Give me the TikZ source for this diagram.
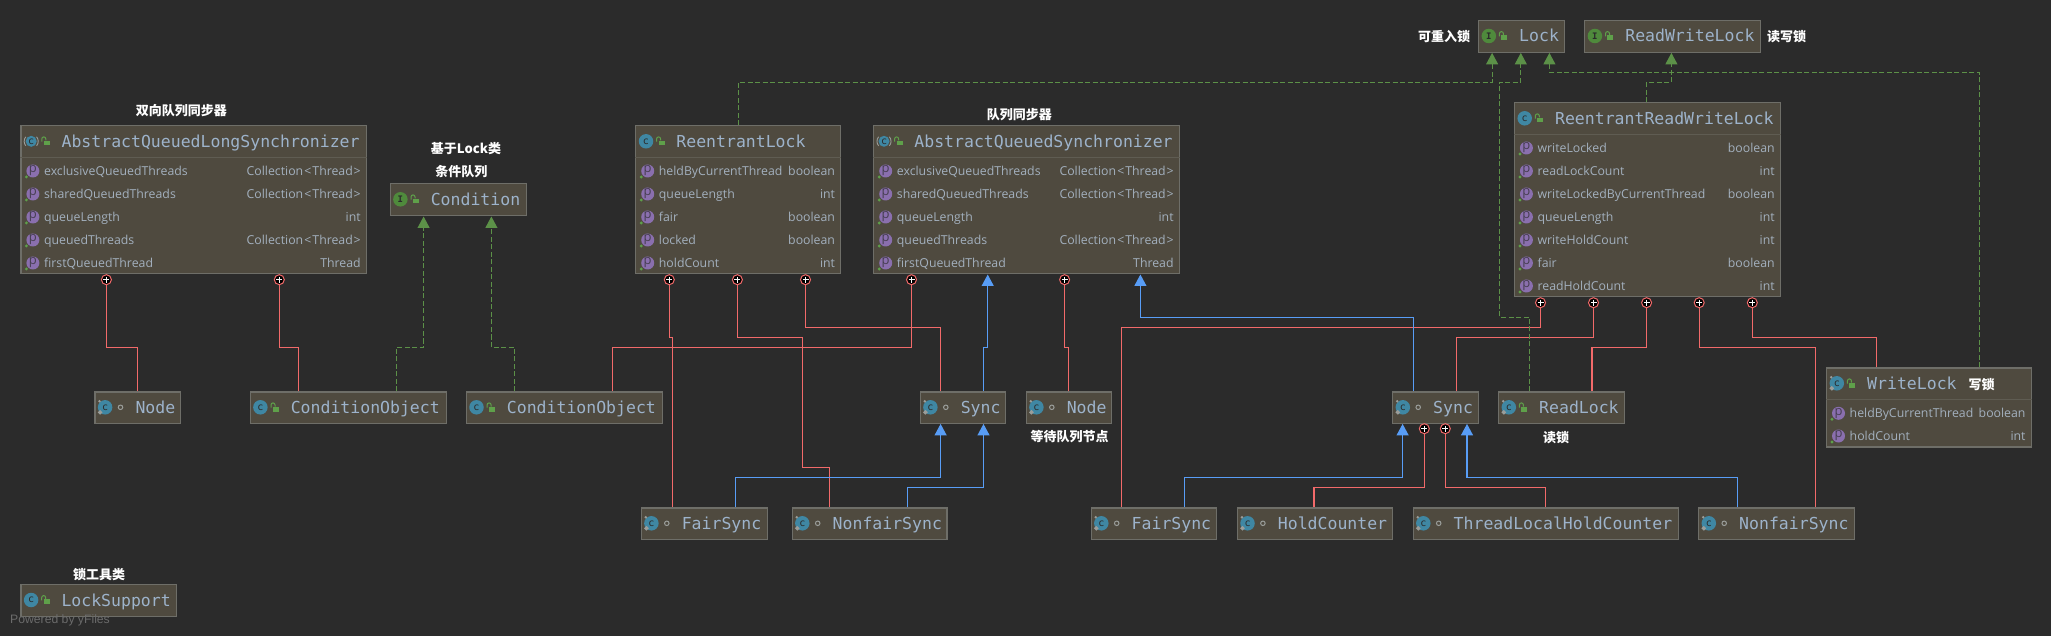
\documentclass[tikz,border=0pt]{standalone}
\usepackage{fontspec}
\setmainfont{Open Sans}
\setmonofont{DejaVu Sans Mono}
\newfontfamily\cjk{Noto Sans CJK SC}
\newfontfamily\yfilesfont{Liberation Sans}
\usetikzlibrary{arrows.meta}
\definecolor{bgdark}{HTML}{2B2B2B}
\definecolor{boxfill}{HTML}{4F4A3F}
\definecolor{boxline}{HTML}{6E6E68}
\definecolor{sepline}{HTML}{5F5C52}
\definecolor{nametext}{HTML}{9DB3CB}
\definecolor{rowtext}{HTML}{A3B0BE}
\definecolor{redlink}{HTML}{F26A6A}
\definecolor{bluelink}{HTML}{589DF6}
\definecolor{greenlink}{HTML}{5C9148}
\definecolor{iconblue}{HTML}{3F87A3}
\definecolor{icongreen}{HTML}{4F8A3C}
\definecolor{iconpurple}{HTML}{8A6FAE}
\definecolor{lockgreen}{HTML}{5FA04A}
\definecolor{pingrey}{HTML}{9A9D9A}
\tikzset{
  umlbox/.style={draw=boxline, fill=boxfill, line width=1.2pt, anchor=north west, inner sep=0pt, rectangle},
  titletext/.style={anchor=base west, inner sep=0pt, text=nametext, font=\ttfamily\fontsize{16.5}{18}\selectfont},
  cicon/.style={circle, fill=iconblue, minimum size=14.5pt, inner sep=0pt, text=bgdark, font=\ttfamily\fontsize{10}{10}\selectfont},
  absicon/.style={cicon, minimum size=11pt},
  iicon/.style={circle, fill=icongreen, minimum size=14.5pt, inner sep=0pt, text=bgdark, font=\ttfamily\bfseries\fontsize{9}{9}\selectfont},
  picon/.style={circle, fill=iconpurple, minimum size=13pt, inner sep=0pt, text=bgdark!70!iconpurple, font=\fontsize{13}{13}\selectfont},
  rowname/.style={anchor=base west, inner sep=0pt, text=rowtext, font=\fontsize{12.3}{14}\selectfont},
  rowtype/.style={anchor=base east, inner sep=0pt, text=rowtext, font=\fontsize{12.3}{14}\selectfont},
  dotmark/.style={circle, draw=pingrey, line width=1pt, minimum size=4.5pt, inner sep=0pt},
  plusmark/.style={circle, draw=redlink, fill=black, line width=1pt, minimum size=10pt, inner sep=0pt,
    path picture={\draw[white, line width=.9pt] (path picture bounding box.center) ++(-3,0) -- ++(6,0)
      (path picture bounding box.center) ++(0,-3) -- ++(0,6);}},
  note/.style={inner sep=0pt, text=white, font=\cjk\bfseries\fontsize{13}{14}\selectfont},
  redlinkline/.style={draw=redlink, line width=1.1pt},
  bluelinkline/.style={draw=bluelink, line width=1.1pt, -{Triangle[width=12pt,length=11.5pt]}},
  greenlinkline/.style={draw=greenlink, line width=1pt, dash pattern=on 5pt off 2.5pt, -{Triangle[width=12pt,length=11.5pt]}},
}
\newcommand{\collthread}{Collection\kern1.2pt<\kern1pt Thread\kern.8pt>}
% name, x, y, width, height, icon style, letter, mark style, title
\newcommand{\classbox}[9]{%
  \node[umlbox, minimum width=#4pt, minimum height=#5pt] (#1) at (#2,#3) {};
  \path (#1.north west) ++(10.8,16) node[#6] (#1-icon) {#7};
  \path (#1.north west) ++(26.2,16) coordinate (#1-mark);
  #8{#1}
  \path (#1.north west) ++(41,22) node[titletext] (#1-title) {#9};
}
\newcommand{\lockmark}[1]{%
  \fill[lockgreen] (#1-mark) ++(-2.9,-.6) rectangle ++(6,4.8);
  \draw[lockgreen, line width=1pt] (#1-mark) ++(-4.8,.4) -- ++(0,-2.8) arc[start angle=180, end angle=360, radius=2] -- ++(0,1.6);
}
\newcommand{\openmark}[1]{\node[dotmark] (#1-dot) at (#1-mark) {};}
\newcommand{\pinmark}[1]{%
  \fill[pingrey] (#1-icon.center) ++(-5.6,-6) circle[radius=1.4];
  \fill[pingrey] (#1-icon.center) ++(-5,2.6) -- ++(2.4,2.4) -- ++(-2.4,2.4) -- ++(-2.4,-2.4) -- cycle;
}
\newcommand{\absmark}[1]{%
  \draw[pingrey, line width=.9pt] (#1-icon.center) ++(-5.4,4.5) arc[start angle=140, end angle=220, radius=7];
  \draw[pingrey, line width=.9pt] (#1-icon.center) ++(5.4,4.5) arc[start angle=40, end angle=-40, radius=7];
}
% box, index, y, name, type
\newcommand{\proprow}[5]{%
  \path (#1.west |- 0,#3) ++(12.5,0) node[picon] (#1-p#2) {p};
  \fill[lockgreen] (#1-p#2.center) ++(-6.5,6) circle[radius=1.6];
  \path (#1.west |- 0,#3) ++(23.5,4.6) node[rowname] (#1-n#2) {#4};
  \path (#1.east |- 0,#3) ++(-6,4.6) node[rowtype] (#1-t#2) {#5};
}
\begin{document}
\begin{tikzpicture}[x=1pt,y=-1pt]
  \fill[bgdark] (0,0) rectangle (2051,636);
  \useasboundingbox (0,0) rectangle (2051,636);

  % big classes
  \classbox{aqls}{20.4}{125.3}{345.3}{148}{absicon}{c}{\lockmark}{AbstractQueuedLongSynchronizer}
  \classbox{reentrant}{635.2}{125.3}{204.8}{148}{cicon}{c}{\lockmark}{ReentrantLock}
  \classbox{aqs}{873.2}{125.3}{305.4}{148}{absicon}{c}{\lockmark}{AbstractQueuedSynchronizer}
  \classbox{rrwl}{1513.9}{102.3}{265.8}{194}{cicon}{c}{\lockmark}{ReentrantReadWriteLock}
  \classbox{writelock}{1826}{367.3}{204.5}{79}{cicon}{c}{\lockmark}{WriteLock}
  \foreach \b in {aqls,reentrant,aqs,rrwl,writelock}
    \draw[sepline, line width=1pt] (\b.north west) ++(0,32) coordinate (\b-sep) -- (\b-sep -| \b.east);

  \foreach \ri/\ry/\rn/\rt in {1/171/exclusiveQueuedThreads/\collthread,2/194/sharedQueuedThreads/\collthread,
      3/217/queueLength/int,4/240/queuedThreads/\collthread,5/263/firstQueuedThread/Thread} {
    \proprow{aqls}{\ri}{\ry}{\rn}{\rt}
    \proprow{aqs}{\ri}{\ry}{\rn}{\rt}
  }
  \foreach \ri/\ry/\rn/\rt in {1/171/heldByCurrentThread/boolean,2/194/queueLength/int,3/217/fair/boolean,
      4/240/locked/boolean,5/263/holdCount/int} {
    \proprow{reentrant}{\ri}{\ry}{\rn}{\rt}
  }
  \foreach \ri/\ry/\rn/\rt in {1/148/writeLocked/boolean,2/171/readLockCount/int,3/194/writeLockedByCurrentThread/boolean,
      4/217/queueLength/int,5/240/writeHoldCount/int,6/263/fair/boolean,7/286/readHoldCount/int} {
    \proprow{rrwl}{\ri}{\ry}{\rn}{\rt}
  }
  \foreach \ri/\ry/\rn/\rt in {1/413.3/heldByCurrentThread/boolean,2/436/holdCount/int} {
    \proprow{writelock}{\ri}{\ry}{\rn}{\rt}
  }

  % small classes
  \classbox{condition}{389.6}{183.3}{136}{32}{iicon}{I}{\lockmark}{Condition}
  \classbox{lock}{1478}{20}{86}{31.7}{iicon}{I}{\lockmark}{Lock}
  \classbox{rwlock}{1584.1}{20}{175.9}{31.7}{iicon}{I}{\lockmark}{ReadWriteLock}
  \classbox{nodeA}{94.3}{391.3}{85.3}{31.4}{cicon}{c}{\openmark}{Node}
  \classbox{condobjA}{249.6}{391.3}{196}{31.4}{cicon}{c}{\lockmark}{ConditionObject}
  \classbox{condobjB}{465.7}{391.3}{196}{31.4}{cicon}{c}{\lockmark}{ConditionObject}
  \classbox{syncA}{919.6}{391.3}{85.3}{31.4}{cicon}{c}{\openmark}{Sync}
  \classbox{nodeB}{1025.6}{391.3}{85.3}{31.4}{cicon}{c}{\openmark}{Node}
  \classbox{syncB}{1392}{391.3}{85.5}{31.4}{cicon}{c}{\openmark}{Sync}
  \classbox{readlock}{1498}{391.3}{125.7}{31.4}{cicon}{c}{\lockmark}{ReadLock}
  \classbox{fairA}{640.6}{507.3}{125.9}{31.4}{cicon}{c}{\openmark}{FairSync}
  \classbox{nonfairA}{791.5}{507.3}{154.9}{31.4}{cicon}{c}{\openmark}{NonfairSync}
  \classbox{fairB}{1090.5}{507.3}{125.1}{31.4}{cicon}{c}{\openmark}{FairSync}
  \classbox{holdcnt}{1236.7}{507.3}{154.8}{31.4}{cicon}{c}{\openmark}{HoldCounter}
  \classbox{tlhc}{1412.5}{507.3}{265.5}{31.4}{cicon}{c}{\openmark}{ThreadLocalHoldCounter}
  \classbox{nonfairB}{1698}{507.3}{156}{31.4}{cicon}{c}{\openmark}{NonfairSync}
  \classbox{locksupport}{20.3}{584}{155.4}{31.7}{cicon}{c}{\lockmark}{LockSupport}
  \foreach \b in {nodeA,nodeB,syncA,syncB,fairA,fairB,nonfairA,nonfairB,holdcnt,tlhc,readlock,writelock} {
    \pinmark{\b}
  }
  \foreach \b in {aqls,aqs} {
    \absmark{\b}
  }

  % plus marks
  \node[plusmark] (aqlsA) at (106.4,279.7) {};
  \node[plusmark] (aqlsB) at (279.3,279.7) {};
  \node[plusmark] (reA) at (669.3,279.7) {};
  \node[plusmark] (reB) at (737.4,279.7) {};
  \node[plusmark] (reC) at (805.5,279.7) {};
  \node[plusmark] (aqsA) at (911.5,279.7) {};
  \node[plusmark] (aqsB) at (1064.6,279.7) {};
  \node[plusmark] (rwA) at (1540.5,302.7) {};
  \node[plusmark] (rwB) at (1593.5,302.7) {};
  \node[plusmark] (rwC) at (1646.6,302.7) {};
  \node[plusmark] (rwD) at (1699.2,302.7) {};
  \node[plusmark] (rwE) at (1752.3,302.7) {};
  \node[plusmark] (syncBa) at (1424.3,428.7) {};
  \node[plusmark] (syncBb) at (1445.3,428.7) {};

  % red links
  \draw[redlinkline] (aqlsA.south) |- (137.5,347.3) -- (nodeA.north -| 137.5,0);
  \draw[redlinkline] (aqlsB.south) |- (298.2,347.3) -- (condobjA.north -| 298.2,0);
  \draw[redlinkline] (reA.south) |- (672.3,337.3) -- (fairA.north -| 672.3,0);
  \draw[redlinkline] (reB.south) |- (802.3,337.3) -- (802.3,467.3) -- (829.5,467.3) -- (nonfairA.north -| 829.5,0);
  \draw[redlinkline] (reC.south) |- (940.6,327.3) -- (syncA.north -| 940.6,0);
  \draw[redlinkline] (aqsA.south) |- (612.2,347.3) -- (condobjB.north -| 612.2,0);
  \draw[redlinkline] (aqsB.south) |- (1068.4,347.3) -- (nodeB.north -| 1068.4,0);
  \draw[redlinkline] (rwA.south) |- (1121.5,327.3) -- (fairB.north -| 1121.5,0);
  \draw[redlinkline] (rwB.south) |- (1456.5,337.3) -- (syncB.north -| 1456.5,0);
  \draw[redlinkline] (rwC.south) |- (1592,347.3) -- (readlock.north -| 1592,0);
  \draw[redlinkline] (rwD.south) |- (1815.6,347.3) -- (nonfairB.north -| 1815.6,0);
  \draw[redlinkline] (rwE.south) |- (1876.3,337.3) -- (writelock.north -| 1876.3,0);
  \draw[redlinkline] (syncBa.south) |- (1314,487.3) -- (holdcnt.north -| 1314,0);
  \draw[redlinkline] (syncBb.south) |- (1545.6,487.3) -- (tlhc.north -| 1545.6,0);

  % blue links
  \draw[bluelinkline] (syncA.north -| 983.5,0) |- (987.7,347.3) -- (aqs.south -| 987.7,0);
  \draw[bluelinkline] (syncB.north -| 1413.7,0) |- (1140.4,317.3) -- (aqs.south -| 1140.4,0);
  \draw[bluelinkline] (fairA.north -| 735.3,0) |- (940.6,477.3) -- (syncA.south -| 940.6,0);
  \draw[bluelinkline] (nonfairA.north -| 907.6,0) |- (983.5,487.3) -- (syncA.south -| 983.5,0);
  \draw[bluelinkline] (fairB.north -| 1184.6,0) |- (1402.6,477.3) -- (syncB.south -| 1402.6,0);
  \draw[bluelinkline] (nonfairB.north -| 1737.6,0) |- (1467,477.3) -- (syncB.south -| 1467,0);

  % green links
  \draw[greenlinkline] (condobjA.north -| 396.4,0) |- (423.6,347.3) -- (condition.south -| 423.6,0);
  \draw[greenlinkline] (condobjB.north -| 514.6,0) |- (491.4,347.3) -- (condition.south -| 491.4,0);
  \draw[greenlinkline] (reentrant.north) |- (1492.1,82.3) -- (lock.south -| 1492.1,0);
  \draw[greenlinkline] (readlock.north -| 1529.5,0) |- (1499.4,317.3) -- (1499.4,82.3) -- (1520.8,82.3) -- (lock.south -| 1520.8,0);
  \draw[greenlinkline] (writelock.north -| 1979,0) |- (1549.4,72.3) -- (lock.south -| 1549.4,0);
  \draw[greenlinkline] (rrwl.north -| 1646.6,0) |- (1671.4,82.3) -- (rwlock.south -| 1671.4,0);

  % notes
  \node[note] (noteaqls) at (181.4,111) {双向队列同步器};
  \node[note] (notecondA) at (466,148.3) {基于Lock类};
  \node[note] (notecondB) at (461.4,172) {条件队列};
  \node[note] (noteaqs) at (1019.4,115) {队列同步器};
  \node[note] (notelock) at (1444.2,37) {可重入锁};
  \node[note] (noterw) at (1786.5,37) {读写锁};
  \node[note] (notenode) at (1069.6,436.7) {等待队列节点};
  \node[note] (noteread) at (1556,438) {读锁};
  \node[note] (notewrite) at (1981.6,385) {写锁};
  \node[note] (notetool) at (99,575) {锁工具类};
  \node[anchor=west, inner sep=0pt, text=black!58, font=\yfilesfont\fontsize{12.2}{14}\selectfont] (poweredby) at (10,620.5) {Powered by yFiles};
\end{tikzpicture}
\end{document}
